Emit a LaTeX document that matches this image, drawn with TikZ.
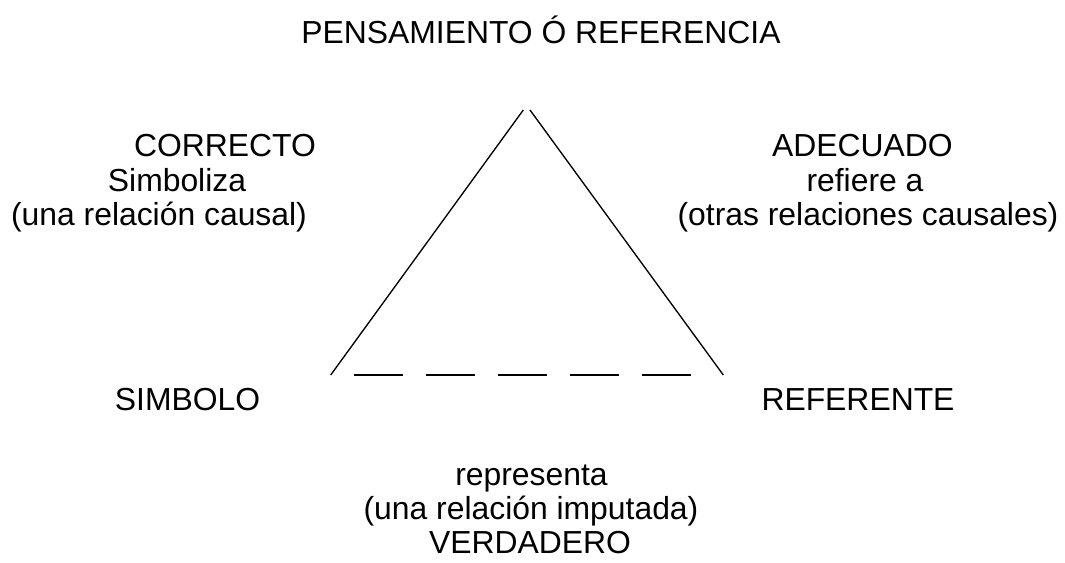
\documentclass[tikz,border=0pt]{standalone}
\usepackage{fontspec}
\setmainfont{Liberation Sans}
\usepackage{tikz}
\usetikzlibrary{positioning}

\tikzset{
	lbl/.style={anchor=base, inner sep=0pt, font=\fontsize{23.9}{28}\selectfont},
	side/.style={line width=1pt, line cap=butt}
}

\begin{document}
\begin{tikzpicture}[x=0.75pt, y=-0.75pt]
	% Page frame
	\useasboundingbox (0,0) rectangle (1065,563);
	
	% Title
	\node[lbl] (pens) at (541,43.5) {PENSAMIENTO Ó REFERENCIA};
	
	% Left side
	\node[lbl] (corr) at (225,156.5) {CORRECTO};
	\node[lbl] (simb) at (177,191.5) {Simboliza};
	\node[lbl] (caus) at (159,226) {(una relación causal)};
	
	% Right side
	\node[lbl] (adec) at (862.5,156.5) {ADECUADO};
	\node[lbl] (refi) at (865,191.5) {refiere a};
	\node[lbl] (otras) at (868,226) {(otras relaciones causales)};
	
	% Corners
	\node[lbl] (simbolo) at (187.5,410) {SIMBOLO};
	\node[lbl] (referente) at (858,410) {REFERENTE};
	
	% Bottom
	\node[lbl] (repr) at (531.5,485) {representa};
	\node[lbl] (imput) at (531,519) {(una relación imputada)};
	\node[lbl] (verd) at (530,553) {VERDADERO};
	
	% Triangle
	\coordinate (topL) at (523.3,110);
	\coordinate (topR) at (530,110);
	\coordinate (botL) at (330.7,375);
	\coordinate (botR) at (723.3,375);
	\coordinate (dashA) at (354.3,375);
	\coordinate (dashB) at (691,375);
	
	\draw[side] (botL) -- (topL);
	\draw[side] (topR) -- (botR);
	\draw[side, dash pattern=on 36.75pt off 17.25pt] (dashA) -- (dashB);
\end{tikzpicture}
\end{document}
